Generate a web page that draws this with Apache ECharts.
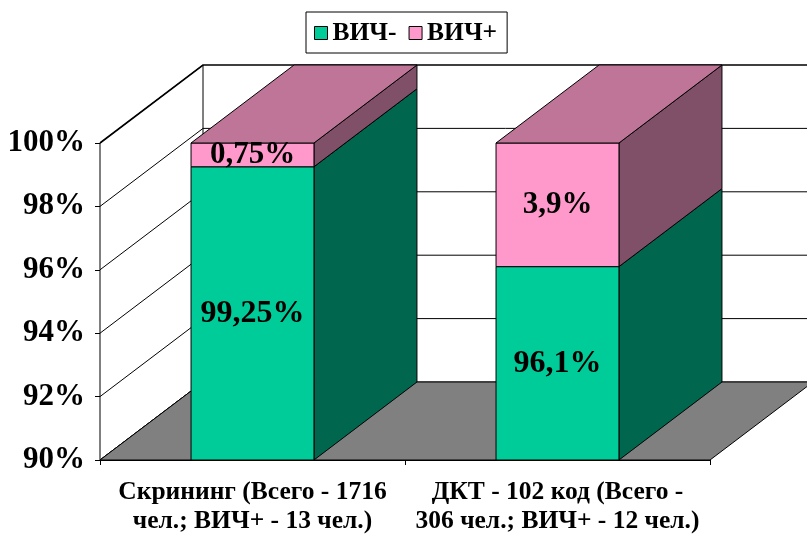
<!DOCTYPE html>
<html>
<head>
<meta charset="utf-8">
<script src="https://cdn.jsdelivr.net/npm/echarts@6/dist/echarts.min.js"></script>
<style>
  html, body { margin: 0; padding: 0; background: #fff; }
  #chart { width: 807px; height: 538px; }
</style>
</head>
<body>
<div id="chart"></div>
<script>
const categories = ['Скрининг (Всего - 1716\nчел.; ВИЧ+ - 13 чел.)', 'ДКТ - 102 код (Всего -\n306 чел.; ВИЧ+ - 12 чел.)']
const seriesNames = ['ВИЧ-', 'ВИЧ+']
const hivNeg = [99.25, 96.1]
const hivPos = [0.75, 3.9]
const yTicks = [90, 92, 94, 96, 98, 100]

// 3d look: depth offset of the back plane, in px
const DX = 103
const DY = -78
const BAR = 0.403
const FONT = '"Liberation Serif", "Times New Roman", serif'
const colors = {
  neg: { front: '#00cc99', side: '#00664d', top: '#00a37a' },
  pos: { front: '#ff99cc', side: '#804f68', top: '#bf7598' },
}
const line = { stroke: '#000', lineWidth: 1 }

const fmt = v => String(v).replace('.', ',') + '%'

function renderWalls(params, api) {
  const cs = params.coordSys
  const x0 = cs.x
  const x1 = cs.x + cs.width
  const yLo = api.coord([0, yTicks[0]])[1]
  const yHi = api.coord([0, yTicks[yTicks.length - 1]])[1]
  const far = x1 + DX + 40
  const children = []

  children.push({
    type: 'polygon',
    shape: { points: [[x0 + DX, yHi + DY], [far, yHi + DY], [far, yLo + DY], [x0 + DX, yLo + DY]] },
    style: { fill: '#fff' },
  })
  children.push({
    type: 'polygon',
    shape: { points: [[x0, yHi], [x0 + DX, yHi + DY], [x0 + DX, yLo + DY], [x0, yLo]] },
    style: { fill: '#fff', ...line },
  })
  yTicks.forEach(v => {
    const y = api.coord([0, v])[1]
    children.push({
      type: 'polyline',
      shape: { points: [[x0, y], [x0 + DX, y + DY], [far, y + DY]] },
      style: { fill: null, ...line, lineWidth: v === yTicks[yTicks.length - 1] ? 1.6 : 1 },
    })
  })
  // floor
  children.push({
    type: 'polygon',
    shape: { points: [[x0, yLo], [x1, yLo], [x1 + DX, yLo + DY], [x0 + DX, yLo + DY]] },
    style: { fill: '#808080', ...line },
  })
  return { type: 'group', children }
}

function makeBar(c, isTop, labelSize) {
  return function (params, api) {
    const cat = api.value(0)
    const lo = Math.max(api.value(1), yTicks[0])
    const hi = api.value(2)
    const w = api.size([1, 0])[0] * BAR
    const [cx, yTop] = api.coord([cat, hi])
    const yBot = api.coord([cat, lo])[1]
    const xl = cx - w / 2
    const xr = cx + w / 2
    const children = [
      {
        type: 'polygon',
        shape: { points: [[xr, yTop], [xr + DX, yTop + DY], [xr + DX, yBot + DY], [xr, yBot]] },
        style: { fill: c.side, ...line },
      },
      {
        type: 'rect',
        shape: { x: xl, y: yTop, width: w, height: yBot - yTop },
        style: { fill: c.front, ...line },
      },
    ]
    if (isTop) {
      children.push({
        type: 'polygon',
        shape: { points: [[xl, yTop], [xl + DX, yTop + DY], [xr + DX, yTop + DY], [xr, yTop]] },
        style: { fill: c.top, ...line },
      })
    }
    children.push({
      type: 'text',
      x: cx,
      y: (yTop + yBot) / 2,
      style: {
        text: fmt(api.value(3)),
        font: 'bold ' + labelSize + 'px ' + FONT,
        fill: '#000',
        align: 'center',
        verticalAlign: 'middle',
        textAlign: 'center',
        textVerticalAlign: 'middle',
      },
    })
    return { type: 'group', children }
  }
}

const negData = hivNeg.map((v, i) => [i, 0, v, v])
const posData = hivPos.map((v, i) => [i, hivNeg[i], hivNeg[i] + v, v])

const chart = echarts.init(document.getElementById('chart'))
chart.setOption({
  animation: false,
  grid: { left: 100, right: 97, top: 143, bottom: 78 },
  legend: {
    data: seriesNames,
    left: 306,
    top: 12,
    padding: [8, 10, 7, 8],
    itemWidth: 13,
    itemHeight: 13,
    itemGap: 12,
    icon: 'rect',
    borderColor: '#000',
    borderWidth: 1,
    itemStyle: { borderColor: '#000', borderWidth: 1 },
    textStyle: { fontFamily: FONT, fontWeight: 'bold', fontSize: 25.5, color: '#000', lineHeight: 25 },
  },
  xAxis: {
    type: 'category',
    data: categories,
    axisLine: { lineStyle: { color: '#000', width: 1 } },
    axisTick: { show: true, length: 5, alignWithLabel: false, lineStyle: { color: '#000' } },
    axisLabel: { interval: 0, margin: 18, color: '#000', fontFamily: FONT, fontWeight: 'bold', fontSize: 25.5, lineHeight: 29 },
    splitLine: { show: false },
  },
  yAxis: {
    type: 'value',
    min: 90,
    max: 100,
    interval: 2,
    axisLine: { show: true, lineStyle: { color: '#000', width: 1 } },
    axisTick: { show: true, length: 5, lineStyle: { color: '#000' } },
    axisLabel: { formatter: '{value}%', margin: 15, color: '#000', fontFamily: FONT, fontWeight: 'bold', fontSize: 31 },
    splitLine: { show: false },
  },
  series: [
    { type: 'custom', name: 'walls', z: 1, clip: false, silent: true, renderItem: renderWalls, data: [[0, yTicks[0]]] },
    { type: 'custom', name: seriesNames[0], z: 2, clip: false, itemStyle: { color: colors.neg.front }, renderItem: makeBar(colors.neg, false, 32), data: negData },
    { type: 'custom', name: seriesNames[1], z: 3, clip: false, itemStyle: { color: colors.pos.front }, renderItem: makeBar(colors.pos, true, 31), data: posData },
  ],
})
</script>
</body>
</html>
